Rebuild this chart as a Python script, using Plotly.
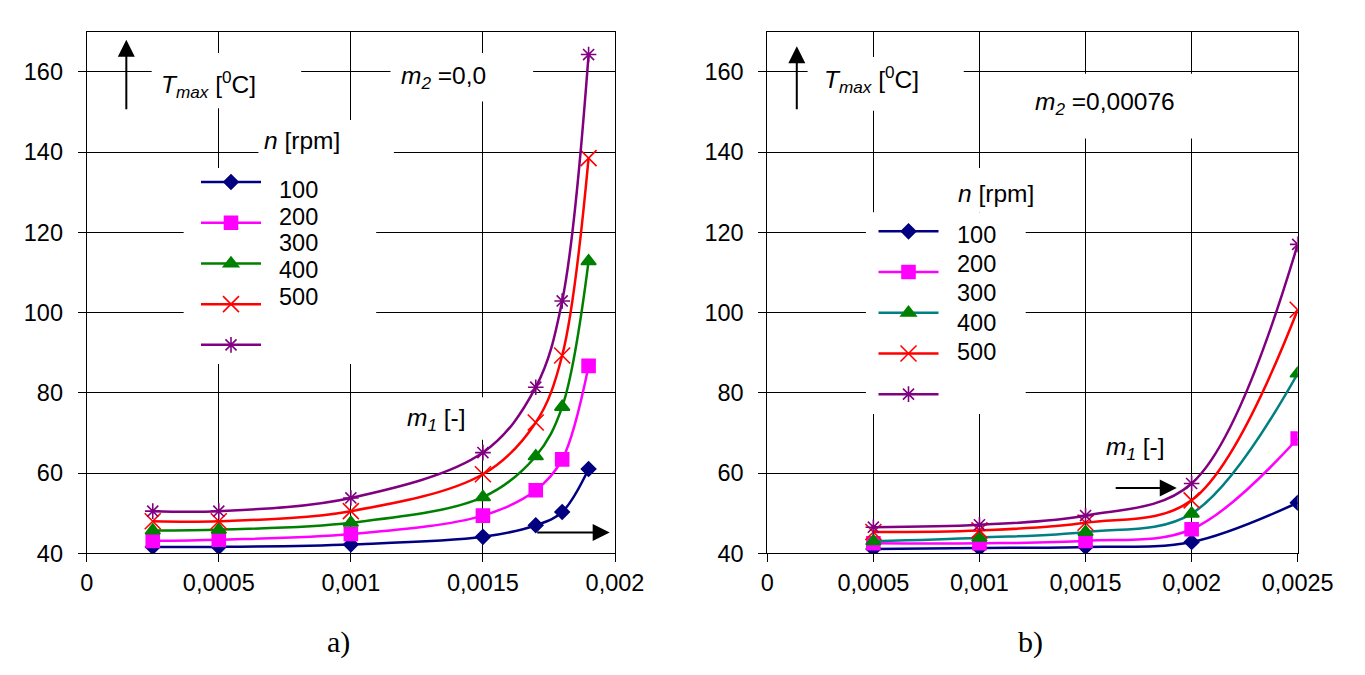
import plotly.graph_objects as go

# ---------------- data ----------------
speeds = ["100", "200", "300", "400", "500"]

# (a) m2 = 0.0
m1_a = [0.00025, 0.0005, 0.001, 0.0015, 0.0017, 0.0018, 0.0019]
t_a_100 = [41.6, 41.6, 42.2, 44.1, 47.0, 50.3, 61.0]
t_a_200 = [43.1, 43.4, 44.8, 49.4, 55.7, 63.4, 86.7]
t_a_300 = [45.7, 45.9, 47.6, 54.0, 64.2, 76.5, 112.8]
t_a_400 = [48.0, 48.0, 50.5, 59.7, 72.6, 89.3, 138.5]
t_a_500 = [50.5, 50.5, 53.8, 65.1, 81.4, 102.9, 164.3]

# (b) m2 = 0.00076
m1_b = [0.0005, 0.001, 0.0015, 0.002, 0.0025]
t_b_100 = [41.1, 41.3, 41.6, 42.8, 52.6]
t_b_200 = [42.5, 42.5, 43.1, 46.0, 68.6]
t_b_300 = [43.0, 43.9, 45.3, 49.9, 84.8]
t_b_400 = [45.3, 45.7, 47.6, 53.2, 100.7]
t_b_500 = [46.5, 47.1, 49.4, 57.4, 117.0]

y_ticks = [40, 60, 80, 100, 120, 140, 160]
y_ticktext = ["40", "60", "80", "100", "120", "140", "160"]
x_ticks_a = [0, 0.0005, 0.001, 0.0015, 0.002]
x_ticktext_a = ["0", "0,0005", "0,001", "0,0015", "0,002"]
x_ticks_b = [0, 0.0005, 0.001, 0.0015, 0.002, 0.0025]
x_ticktext_b = ["0", "0,0005", "0,001", "0,0015", "0,002", "0,0025"]

# ---------------- styles ----------------
line_colors_a = ["#000080", "#FF00FF", "#008000", "#FF0000", "#800080"]
line_colors_b = ["#000080", "#FF00FF", "#008080", "#FF0000", "#800080"]
marker_colors = ["#000080", "#FF00FF", "#008000", "#FF0000", "#800080"]
symbols = ["diamond", "square", "triangle-up", "x-thin-open", "asterisk-open"]
sizes = [11, 13, 13, 16, 13]

FONT = "Liberation Sans"
TICK_SIZE = 23.5
ANN_SIZE = 24.5
fig = go.Figure()

series_a = [t_a_100, t_a_200, t_a_300, t_a_400, t_a_500]
series_b = [t_b_100, t_b_200, t_b_300, t_b_400, t_b_500]

for i, ys in enumerate(series_a):
    fig.add_trace(go.Scatter(
        x=m1_a, y=ys, mode="lines+markers", name=" ",
        line=dict(color=line_colors_a[i], width=2.5, shape="spline", smoothing=1),
        marker=dict(symbol=symbols[i], size=sizes[i], color=marker_colors[i],
                    line=dict(color=marker_colors[i], width=1.6)),
        xaxis="x", yaxis="y", legend="legend"))

for i, ys in enumerate(series_b):
    fig.add_trace(go.Scatter(
        x=m1_b, y=ys, mode="lines+markers", name=" ",
        line=dict(color=line_colors_b[i], width=2.5, shape="spline", smoothing=1),
        marker=dict(symbol=symbols[i], size=sizes[i], color=marker_colors[i],
                    line=dict(color=marker_colors[i], width=1.6)),
        xaxis="x2", yaxis="y2", legend="legend2"))

axis_common = dict(
    showgrid=True, gridcolor="black", gridwidth=1,
    showline=True, linecolor="black", linewidth=1, mirror=True,
    ticks="outside", ticklen=8, tickcolor="black", tickwidth=1,
    zeroline=False, tickfont=dict(family=FONT, size=TICK_SIZE, color="black"),
)

fig.update_layout(
    width=1365, height=675,
    margin=dict(l=0, r=0, t=0, b=0, autoexpand=False),
    paper_bgcolor="white", plot_bgcolor="white",
    font=dict(family=FONT, size=22, color="black"),
    xaxis=dict(domain=[0.06352, 0.45055], range=[0, 0.002], tickmode="array",
               tickvals=x_ticks_a, ticktext=x_ticktext_a, ticklabelstandoff=1,
               anchor="y", **axis_common),
    yaxis=dict(domain=[0.18030, 0.95304], range=[40, 170], tickmode="array",
               tickvals=y_ticks, ticktext=y_ticktext, ticklabelstandoff=10,
               anchor="x", **axis_common),
    xaxis2=dict(domain=[0.56212, 0.95070], range=[0, 0.0025], tickmode="array",
                tickvals=x_ticks_b, ticktext=x_ticktext_b, ticklabelstandoff=1,
                anchor="y2", **axis_common),
    yaxis2=dict(domain=[0.18030, 0.95304], range=[40, 170], tickmode="array",
                tickvals=y_ticks, ticktext=y_ticktext, ticklabelstandoff=10,
                anchor="x2", **axis_common),
    legend=dict(x=196 / 1365, y=1 - 156.7 / 675, xanchor="left", yanchor="top",
                bgcolor="rgba(0,0,0,0)", borderwidth=0, itemwidth=60,
                font=dict(family=FONT, size=29)),
    legend2=dict(x=873.5 / 1365, y=1 - 206 / 675, xanchor="left", yanchor="top",
                 bgcolor="rgba(0,0,0,0)", borderwidth=0, itemwidth=60,
                 font=dict(family=FONT, size=29)),
    showlegend=True,
)

# white boxes that interrupt the grid behind the labels and legend
boxes_a = [(0.000246, 0.000812, 150.9, 164.7), (0.00115, 0.00169, 152.6, 164.7),
           (0.00065, 0.001163, 136, 148), (0.000367, 0.001096, 87.2, 136),
           (0.001177, 0.001514, 68.3, 78.9)]
boxes_b = [(0.00019, 0.000926, 150.3, 163.7), (0.00121, 0.002025, 143.4, 159.5),
           (0.000855, 0.00128, 125, 136), (0.000465, 0.001218, 74.7, 125)]
for (x0, x1, y0, y1) in boxes_a:
    fig.add_shape(type="rect", xref="x", yref="y", x0=x0, x1=x1, y0=y0, y1=y1,
                  fillcolor="white", line=dict(width=0), layer="between")
for (x0, x1, y0, y1) in boxes_b:
    fig.add_shape(type="rect", xref="x2", yref="y2", x0=x0, x1=x1, y0=y0, y1=y1,
                  fillcolor="white", line=dict(width=0), layer="between")

def txt(text, x, y, xr, yr, xanchor="center", size=ANN_SIZE, family=FONT):
    fig.add_annotation(text=text, x=x, y=y, xref=xr, yref=yr, showarrow=False,
                       xanchor=xanchor, yanchor="middle", align="left",
                       font=dict(family=family, size=size, color="black"))

def arrow(x, y, ax, ay, xr, yr):
    fig.add_annotation(text="", x=x, y=y, ax=ax, ay=ay, xref=xr, yref=yr,
                       axref=xr, ayref=yr, showarrow=True, arrowhead=2,
                       arrowsize=1.7, arrowwidth=2, arrowcolor="black")

tmax = "<i>T<sub>max</sub></i> [<sup>0</sup>C]"
# chart a
txt(tmax, 0.000275, 156.8, "x", "y", xanchor="left")
txt("<i>m<sub>2</sub></i> =0,0", 0.00135, 158.6, "x", "y")
txt("<i>n</i> [rpm]", 0.000816, 143, "x", "y")
txt("<i>m<sub>1</sub></i> [-]", 0.001325, 73.4, "x", "y")
arrow(0.00015, 168, 0.00015, 150.3, "x", "y")
arrow(0.00198, 45.2, 0.0017, 45.2, "x", "y")
# chart b
txt(tmax, 0.00026, 158.2, "x2", "y2", xanchor="left")
txt("<i>m<sub>2</sub></i> =0,00076", 0.00159, 152.2, "x2", "y2")
txt("<i>n</i> [rpm]", 0.001078, 129.6, "x2", "y2")
txt("<i>m<sub>1</sub></i> [-]", 0.001737, 66, "x2", "y2")
arrow(0.000139, 166.4, 0.000139, 150.3, "x2", "y2")
arrow(0.00193, 56.3, 0.001635, 56.3, "x2", "y2")

# legend value labels (placed as in the original, not aligned with the symbols)
label_y_a = [190, 216.7, 243.3, 270, 296.7]
label_y_b = [234.5, 263.5, 293, 322.5, 351.7]
for s, yy in zip(speeds, label_y_a):
    txt(s, 276.5 / 1365, 1 - yy / 675, "paper", "paper", xanchor="left", size=TICK_SIZE)
for s, yy in zip(speeds, label_y_b):
    txt(s, 955 / 1365, 1 - yy / 675, "paper", "paper", xanchor="left", size=TICK_SIZE)

# panel labels
txt("a)", 338 / 1365, 1 - 641.7 / 675, "paper", "paper", size=30, family="Liberation Serif")
txt("b)", 1030 / 1365, 1 - 641.7 / 675, "paper", "paper", size=30, family="Liberation Serif")

fig.write_html("out.html", config={"displayModeBar": False},
               post_script="document.body.style.margin='0';")
